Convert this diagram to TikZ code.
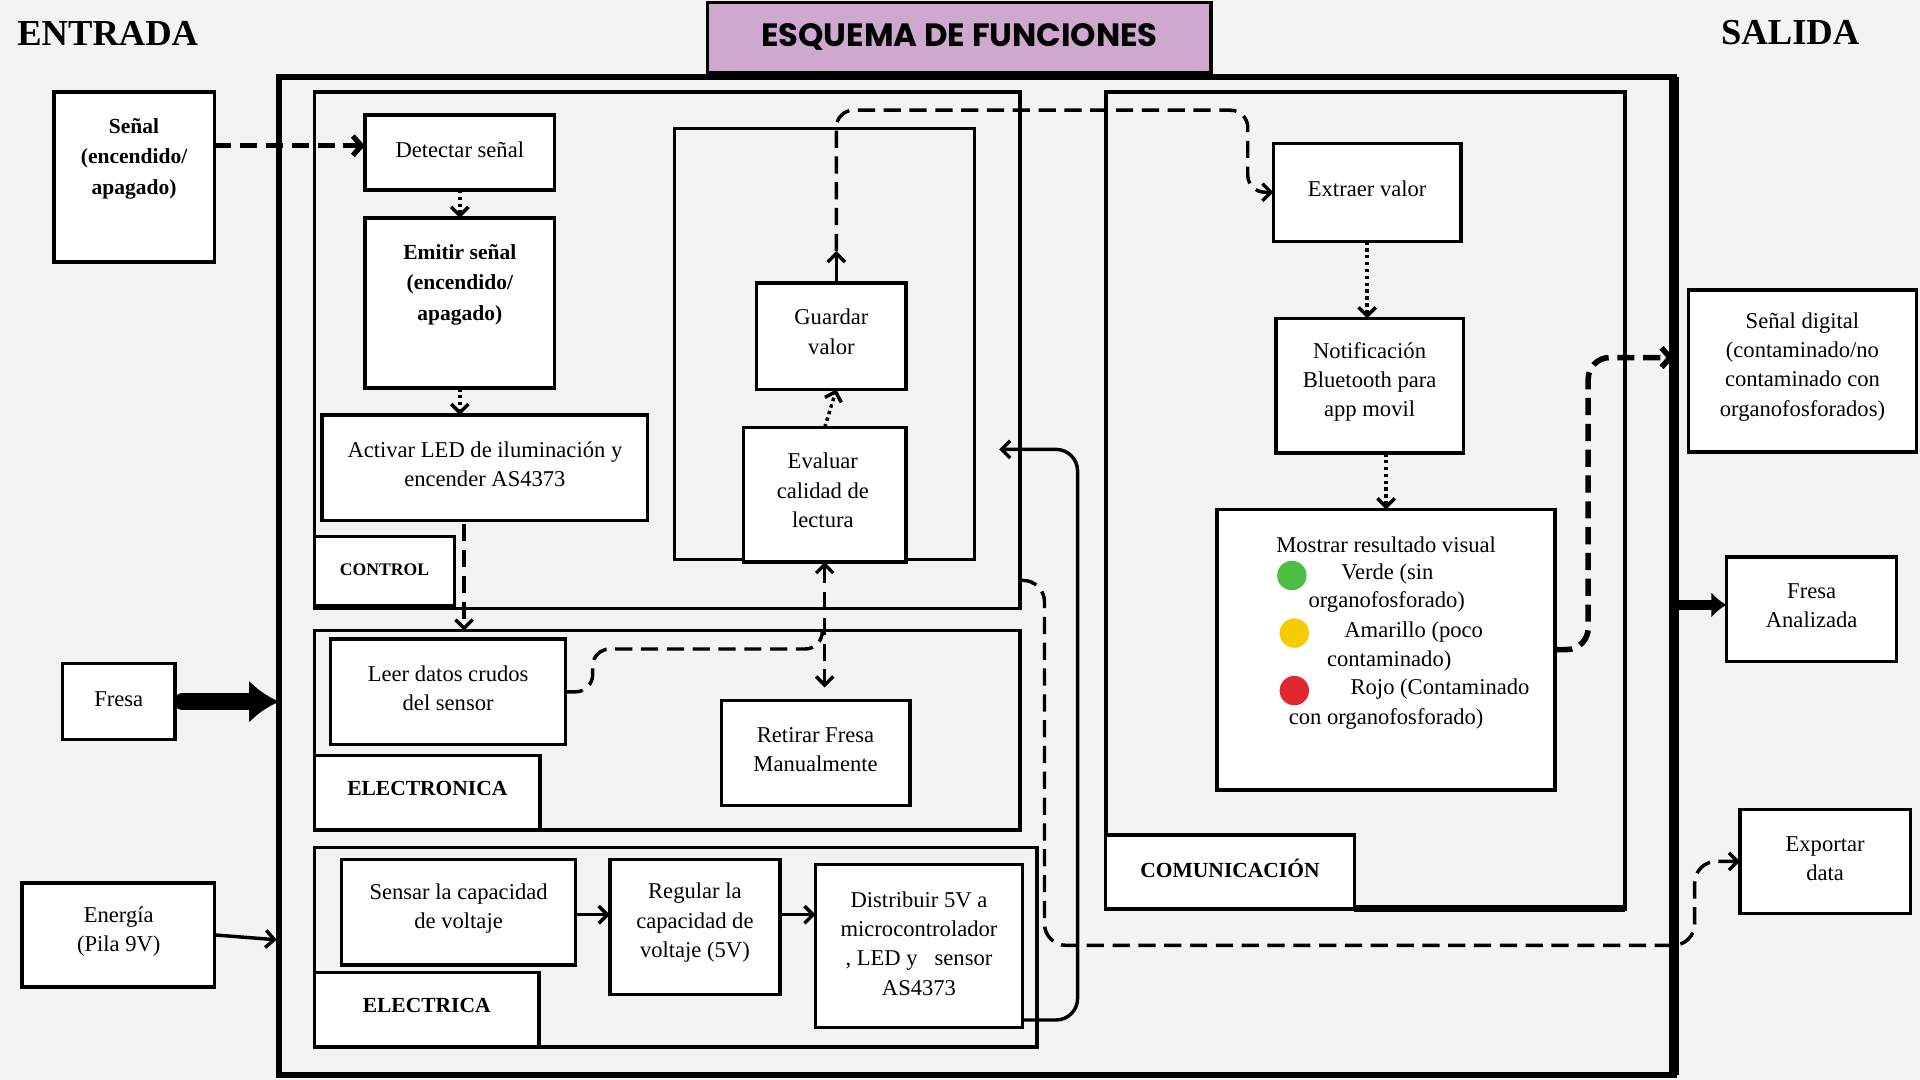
\documentclass[tikz,border=0pt]{standalone}
\usepackage{fontspec}
\setmainfont{Liberation Serif}
\newfontfamily\titlefont{Poppins}
\usetikzlibrary{arrows.meta,fit,calc}
\definecolor{bgc}{HTML}{F3F3F3}
\definecolor{lav}{HTML}{CFA8CF}
\definecolor{gr}{HTML}{4DBD45}
\definecolor{yl}{HTML}{F5CB05}
\definecolor{rd}{HTML}{E0282E}
\tikzset{
  bx/.style={draw, line width=1.6pt, fill=white, inner sep=0pt, outer sep=0pt},
  sec/.style={draw, line width=1.6pt, inner sep=0pt, outer sep=0pt},
  t/.style={font=\fontsize{10.5}{13.6}\selectfont, align=center, inner sep=0pt},
  tb/.style={font=\fontsize{10}{14.2}\selectfont\bfseries, align=center, inner sep=0pt},
  lab/.style={font=\fontsize{10}{12}\selectfont\bfseries, inner sep=0pt},
  arr/.style={line width=1.6pt, -{Straight Barb[length=4pt,width=8pt]}},
  dsh/.style={dash pattern=on 8pt off 4pt},
  dtt/.style={dash pattern=on 1.6pt off 1.6pt},
  dot/.style={circle, inner sep=0pt, minimum size=0.48cm},
}
\begin{document}
\begin{tikzpicture}[x=0.02cm,y=-0.02cm]
\fill[bgc] (0,0) rectangle (1568,882);
\useasboundingbox (0,0) rectangle (1568,882);

% headings
\node[font=\fontsize{17}{20}\selectfont\bfseries, inner sep=0pt] (entrada) at (88,27) {ENTRADA};
\node[font=\fontsize{17}{20}\selectfont\bfseries, inner sep=0pt] (salida) at (1462,27) {SALIDA};
\node[bx, fill=lav, fit={(578,2) (989,59)}] (titlebox) {};
\node[font=\titlefont\fontsize{15}{18}\selectfont\bfseries, inner sep=0pt] (title) at (titlebox.center) {ESQUEMA DE FUNCIONES};

% outer frame
\node[sec, line width=2.8pt, fit={(228,63) (1367,878)}] (Frame) {};
\draw[line width=4.5pt] (Frame.north east) -- (Frame.south east);

% sections
\node[sec, fit={(257,75) (833,497)}] (SecCtrl) {};
\node[sec, fit={(551,105) (796,457)}] (SecEval) {};
\node[sec, fit={(257,515) (833,678)}] (SecElec) {};
\node[sec, fit={(257,692) (847,855)}] (SecElc) {};
\node[sec, line width=2pt, fit={(903,75) (1327,742)}] (SecCom) {};
\draw[line width=3.5pt] (1106,742) -- (SecCom.south east);

% input boxes
\node[bx, fit={(44,75) (175,214)}] (Senal) {};
\node[bx, fit={(51,542) (143,604)}] (Fresa) {};
\node[bx, fit={(18,721) (175,806)}] (Energia) {};

% control boxes
\node[bx, fit={(298,94) (453,155)}] (Detectar) {};
\node[bx, fit={(298,178) (453,317)}] (Emitir) {};
\node[bx, fit={(263,339) (529,425)}] (Activar) {};
\node[bx, fit={(257,438) (371,495)}] (LCtrl) {};
\node[bx, fit={(618,231) (740,318)}] (Guardar) {};
\node[bx, fit={(607,349) (740,459)}] (Evaluar) {};

% electronica
\node[bx, fit={(270,522) (462,608)}] (Leer) {};
\node[bx, fit={(257,617) (441,678)}] (LElec) {};
\node[bx, fit={(589,572) (743,658)}] (Retirar) {};

% electrica
\node[bx, fit={(279,702) (470,788)}] (Sensar) {};
\node[bx, fit={(257,794) (440,855)}] (LElc) {};
\node[bx, fit={(498,702) (637,812)}] (Regular) {};
\node[bx, fit={(666,706) (835,839)}] (Distrib) {};

% comunicacion
\node[bx, fit={(903,682) (1106,742)}] (LCom) {};
\node[bx, fit={(1040,117) (1193,197)}] (Extraer) {};
\node[bx, fit={(1042,260) (1195,370)}] (Notif) {};
\node[bx, fit={(994,416) (1270,645)}] (Mostrar) {};

% outputs
\node[bx, fit={(1379,237) (1565,369)}] (SenalDig) {};
\node[bx, fit={(1410,455) (1549,540)}] (FresaAn) {};
\node[bx, fit={(1421,661) (1560,746)}] (Exportar) {};

% ---- connectors ----
\draw[line width=2.4pt, dsh, -{Straight Barb[length=4pt,width=9pt]}] (Senal.east |- 0,119) -- (Detectar.west |- 0,119);
\draw[arr, dtt] (Detectar.south) -- (Emitir.north);
\draw[arr, dtt] (Emitir.south) -- (Emitir.south |- Activar.north);
\coordinate (a4) at ($(Activar.south)+(-17,3)$);
\draw[arr, dsh] (a4) -- (a4 |- SecElec.north);
\draw[arr, dtt] (Evaluar.north) -- ($(Guardar.south)+(4,0)$);
\coordinate (g1) at ($(Guardar.north)+(4,-26)$);
\draw[arr] ($(Guardar.north)+(4,0)$) -- (g1);
\coordinate (gtop) at (1019,90);
\draw[arr, dsh, rounded corners=8pt] (g1) |- (gtop) |- (Extraer.west);
\draw[arr, dtt] (Extraer.south) -- (Extraer.south |- Notif.north);
\draw[arr, dtt] (Mostrar.north |- Notif.south) -- (Mostrar.north);
% electronica links
\draw[line width=1.6pt, dsh, {Straight Barb[length=4pt,width=8pt]}-{Straight Barb[length=4pt,width=8pt]}, shorten >=6pt] (Evaluar.south) -- (Evaluar.south |- Retirar.north);
\coordinate (j) at ($(Evaluar.south)+(-2,71)$);
\draw[line width=1.6pt, dsh, rounded corners=8pt] (Leer.east) -- ++(22,0) |- (j) -- ++(0,-14);
% electrica chain
\draw[arr] (Sensar.east |- 0,747) -- (Regular.west |- 0,747);
\draw[arr] (Regular.east |- 0,747) -- (Distrib.west |- 0,747);
% distribuir return
\coordinate (dstart) at ($(Distrib.south east)+(0,-6)$);
\coordinate (ret) at (816,367);
\coordinate (rc) at (880,367);
\draw[arr, rounded corners=10pt] (dstart) -| (rc) -- (ret);
% control -> exportar
\coordinate (c11) at (833,474);
\coordinate (c12) at (1384,772);
\draw[arr, dsh, rounded corners=10pt] (c11) -- ++(20,0) |- (c12) |- (Exportar.west);
% mostrar -> senal digital
\coordinate (sd) at (1367,292);
\draw[line width=2.6pt, dsh, -{Straight Barb[length=4pt,width=9pt]}, rounded corners=10pt] (Mostrar.east) -- ++(27,0) |- (sd);
% thick input/output arrows
\draw[line width=8pt, line cap=round, -{Latex[length=14pt,width=20pt]}] ($(Fresa.east)+(6,0)$) -- (Fresa.east -| Frame.west);
\draw[line width=5pt, -{Latex[length=7pt,width=12pt]}] (Frame.east |- 0,494) -- (FresaAn.west |- 0,494);
\draw[arr] (Energia.east) -- ($(Frame.west |- Energia.east)+(-2,4)$);

% ---- texts ----
\node[tb] (tSenal) at (109.5,129.5) {Señal\\(encendido/\\apagado)};
\node[t] (tFresa) at (97,571) {Fresa};
\node[t] (tEnergia) at (97,761) {Energía\\(Pila 9V)};
\node[t] (tDetectar) at (375.5,122) {Detectar señal};
\node[tb] (tEmitir) at (375.5,232.5) {Emitir señal\\(encendido/\\apagado)};
\node[t] (tActivar) at (396,379) {Activar LED de iluminación y\\encender AS4373};
\node[lab, font=\fontsize{8.2}{10}\selectfont\bfseries] (tLCtrl) at (314,465) {CONTROL};
\node[t] (tGuardar) at (679,271) {Guardar\\valor};
\node[t] (tEvaluar) at (672,400.5) {Evaluar\\calidad de\\lectura};
\node[t] (tLeer) at (366,562) {Leer datos crudos\\del sensor};
\node[lab] (tLElec) at (349,644) {ELECTRONICA};
\node[t] (tRetirar) at (666,612) {Retirar Fresa\\Manualmente};
\node[t] (tSensar) at (374.5,742) {Sensar la capacidad\\de voltaje};
\node[lab] (tLElc) at (348.5,821) {ELECTRICA};
\node[t] (tRegular) at (567.5,753.5) {Regular la\\capacidad de\\voltaje (5V)};
\node[t] (tDistrib) at (750.5,770.5) {Distribuir 5V a\\microcontrolador\\, LED y\ \ \ sensor\\AS4373};
\node[lab] (tLCom) at (1004.5,709) {COMUNICACIÓN};
\node[t] (tExtraer) at (1116.5,154) {Extraer valor};
\node[t] (tNotif) at (1118.5,312) {Notificación\\Bluetooth para\\app movil};
\node[t] (m1) at (1132,445) {Mostrar resultado visual};
\node[t] (m2) at (1133,469) {Verde (sin};
\node[t] (m3) at (1132.5,492) {organofosforado)};
\node[t] (m4) at (1154.5,516) {Amarillo (poco};
\node[t] (m5) at (1134.5,540) {contaminado)};
\node[t] (m6) at (1176,563) {Rojo (Contaminado};
\node[t] (m7) at (1132,587) {con organofosforado)};
\node[dot, fill=gr] (cg) at (1055,470) {};
\node[dot, fill=yl] (cy) at (1057,517) {};
\node[dot, fill=rd] (cr) at (1057,564) {};
\node[t] (tSenalDig) at (1472,299.5) {Señal digital\\(contaminado/no\\contaminado con\\organofosforados)};
\node[t] (tFresaAn) at (1479.5,494.5) {Fresa\\Analizada};
\node[t] (tExportar) at (1490.5,701) {Exportar\\data};
\end{tikzpicture}
\end{document}
